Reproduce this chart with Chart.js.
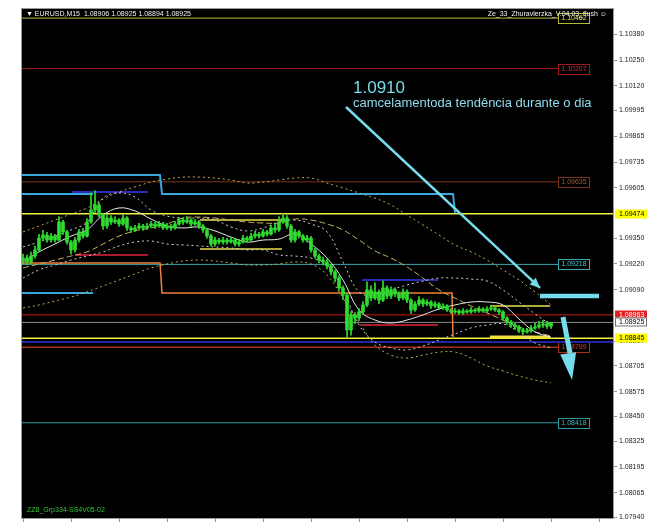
<!DOCTYPE html>
<html>
<head>
<meta charset="utf-8">
<script src="https://cdn.jsdelivr.net/npm/chart.js@4.4.1/dist/chart.umd.min.js"></script>
<style>
  html, body { margin: 0; padding: 0; background: #fff; }
  canvas { display: block; }
</style>
</head>
<body>
<canvas id="eurusd" width="655" height="529"></canvas>
<script>
// EURUSD M15 candles, one entry per bar (index = bar number)
const opens = [1.09240,1.09250,1.09230,1.09260,1.09291,1.09351,1.09366,1.09341,1.09361,1.09341,
  1.09432,1.09382,1.09331,1.09291,1.09341,1.09382,1.09361,1.09432,1.09493,1.09518,
  1.09467,1.09412,1.09452,1.09432,1.09442,1.09422,1.09452,1.09402,1.09392,1.09402,
  1.09412,1.09402,1.09412,1.09422,1.09412,1.09422,1.09402,1.09412,1.09402,1.09422,
  1.09442,1.09432,1.09442,1.09422,1.09432,1.09412,1.09392,1.09361,1.09321,1.09341,
  1.09331,1.09341,1.09331,1.09341,1.09321,1.09331,1.09351,1.09341,1.09361,1.09371,
  1.09361,1.09382,1.09371,1.09402,1.09392,1.09432,1.09452,1.09412,1.09341,1.09382,
  1.09361,1.09341,1.09351,1.09291,1.09260,1.09240,1.09230,1.09210,1.09180,1.09149,
  1.09099,1.09063,1.08887,1.08963,1.08947,1.08978,1.09013,1.09089,1.09048,1.09079,
  1.09038,1.09099,1.09058,1.09089,1.09069,1.09048,1.09079,1.09038,1.08988,1.09018,
  1.09038,1.09018,1.09028,1.09008,1.09018,1.08998,1.09008,1.08988,1.08978,1.08983,
  1.08973,1.08983,1.08978,1.08988,1.08983,1.08993,1.08983,1.08993,1.08998,1.08988,
  1.08978,1.08947,1.08927,1.08912,1.08902,1.08887,1.08877,1.08882,1.08897,1.08902,
  1.08912,1.08917,1.08906];
const closes = [1.09250,1.09230,1.09260,1.09291,1.09351,1.09366,1.09341,1.09361,1.09341,1.09432,
  1.09382,1.09331,1.09291,1.09341,1.09382,1.09361,1.09432,1.09493,1.09518,1.09467,
  1.09412,1.09452,1.09432,1.09442,1.09422,1.09452,1.09402,1.09392,1.09402,1.09412,
  1.09402,1.09412,1.09422,1.09412,1.09422,1.09402,1.09412,1.09402,1.09422,1.09442,
  1.09432,1.09442,1.09422,1.09432,1.09412,1.09392,1.09361,1.09321,1.09341,1.09331,
  1.09341,1.09331,1.09341,1.09321,1.09331,1.09351,1.09341,1.09361,1.09371,1.09361,
  1.09382,1.09371,1.09402,1.09392,1.09432,1.09452,1.09412,1.09341,1.09382,1.09361,
  1.09341,1.09351,1.09291,1.09260,1.09240,1.09230,1.09210,1.09180,1.09149,1.09099,
  1.09063,1.08887,1.08963,1.08947,1.08978,1.09013,1.09089,1.09048,1.09079,1.09038,
  1.09099,1.09058,1.09089,1.09069,1.09048,1.09079,1.09038,1.08988,1.09018,1.09038,
  1.09018,1.09028,1.09008,1.09018,1.08998,1.09008,1.08988,1.08978,1.08983,1.08973,
  1.08983,1.08978,1.08988,1.08983,1.08993,1.08983,1.08993,1.08998,1.08988,1.08978,
  1.08947,1.08927,1.08912,1.08902,1.08887,1.08877,1.08882,1.08897,1.08902,1.08912,
  1.08917,1.08906,1.08925];
const highs = [1.09270,1.09265,1.09280,1.09310,1.09370,1.09390,1.09380,1.09375,1.09370,1.09460,
  1.09440,1.09390,1.09340,1.09355,1.09395,1.09400,1.09450,1.09580,1.09590,1.09530,
  1.09475,1.09470,1.09465,1.09460,1.09450,1.09470,1.09460,1.09410,1.09415,1.09425,
  1.09420,1.09425,1.09435,1.09430,1.09435,1.09430,1.09425,1.09420,1.09435,1.09455,
  1.09455,1.09460,1.09450,1.09445,1.09440,1.09420,1.09400,1.09370,1.09355,1.09350,
  1.09355,1.09350,1.09355,1.09350,1.09345,1.09365,1.09360,1.09375,1.09385,1.09380,
  1.09395,1.09390,1.09415,1.09420,1.09460,1.09475,1.09465,1.09420,1.09395,1.09390,
  1.09370,1.09365,1.09360,1.09300,1.09270,1.09255,1.09245,1.09220,1.09190,1.09160,
  1.09110,1.09070,1.08980,1.08975,1.08995,1.09030,1.09130,1.09110,1.09125,1.09090,
  1.09135,1.09110,1.09105,1.09100,1.09080,1.09095,1.09090,1.09045,1.09030,1.09055,
  1.09045,1.09040,1.09035,1.09030,1.09025,1.09020,1.09015,1.08995,1.08995,1.08990,
  1.08995,1.08990,1.09000,1.08995,1.09005,1.09000,1.09005,1.09010,1.09005,1.08995,
  1.08985,1.08955,1.08935,1.08920,1.08910,1.08895,1.08895,1.08910,1.08920,1.08930,
  1.08935,1.08930,1.08925];
const lows = [1.09220,1.09215,1.09220,1.09250,1.09285,1.09340,1.09330,1.09330,1.09330,1.09335,
  1.09370,1.09320,1.09270,1.09280,1.09330,1.09350,1.09355,1.09425,1.09480,1.09455,
  1.09395,1.09400,1.09420,1.09425,1.09410,1.09415,1.09390,1.09380,1.09385,1.09395,
  1.09390,1.09395,1.09405,1.09400,1.09405,1.09395,1.09395,1.09390,1.09395,1.09415,
  1.09420,1.09425,1.09410,1.09415,1.09400,1.09380,1.09350,1.09310,1.09310,1.09320,
  1.09320,1.09320,1.09325,1.09310,1.09310,1.09325,1.09330,1.09335,1.09350,1.09350,
  1.09355,1.09360,1.09365,1.09380,1.09385,1.09425,1.09400,1.09330,1.09330,1.09350,
  1.09330,1.09330,1.09280,1.09250,1.09225,1.09215,1.09195,1.09165,1.09130,1.09085,
  1.09040,1.08851,1.08860,1.08920,1.08935,1.08965,1.09005,1.09035,1.09040,1.09020,
  1.09030,1.09045,1.09045,1.09055,1.09035,1.09040,1.09025,1.08970,1.08980,1.09010,
  1.09005,1.09010,1.08995,1.09000,1.08990,1.08990,1.08980,1.08970,1.08970,1.08965,
  1.08965,1.08970,1.08970,1.08975,1.08975,1.08975,1.08975,1.08985,1.08980,1.08965,
  1.08935,1.08915,1.08900,1.08890,1.08875,1.08865,1.08870,1.08875,1.08890,1.08895,
  1.08900,1.08895,1.08894];

// indicator lines, sampled every 4th bar
const bandX = [0,4,8,12,16,20,24,28,32,36,40,44,48,52,56,60,64,68,72,76,80,84,88,92,96,100,104,108,112,116,120,124,128,132];
const maFast = [1.09230,1.09281,1.09321,1.09361,1.09392,1.09467,1.09503,1.09488,1.09447,1.09412,1.09402,1.09407,1.09387,1.09356,1.09331,1.09341,1.09346,
  1.09372,1.09321,1.09250,1.09139,1.08988,1.08937,1.08922,1.08937,1.08963,1.08993,1.09013,1.09028,1.09028,1.09013,1.08942,1.08877,1.08851];
const maSlow = [1.09200,1.09220,1.09240,1.09260,1.09281,1.09321,1.09361,1.09387,1.09402,1.09422,1.09452,1.09457,1.09452,1.09442,1.09432,1.09427,1.09427,
  1.09447,1.09442,1.09422,1.09392,1.09341,1.09286,1.09250,1.09205,1.09149,1.09089,1.09048,1.09008,1.08973,1.08937,1.08902,1.08877,1.08856];
const bandUpper = [1.09306,1.09331,1.09361,1.09392,1.09432,1.09553,1.09579,1.09558,1.09493,1.09462,1.09452,1.09452,1.09442,1.09407,1.09387,1.09402,1.09432,
  1.09442,1.09422,1.09382,1.09230,1.09079,1.09063,1.09089,1.09114,1.09134,1.09149,1.09149,1.09144,1.09134,1.09089,1.09028,1.08968,1.08912];
const bandLower = [1.09149,1.09190,1.09215,1.09240,1.09260,1.09281,1.09311,1.09331,1.09336,1.09321,1.09316,1.09311,1.09306,1.09301,1.09291,1.09291,1.09266,
  1.09260,1.09250,1.09215,1.09089,1.08912,1.08826,1.08796,1.08786,1.08806,1.08836,1.08867,1.08897,1.08912,1.08917,1.08877,1.08821,1.08796];
const envUpper = [1.09382,1.09412,1.09442,1.09472,1.09503,1.09548,1.09584,1.09609,1.09634,1.09649,1.09659,1.09659,1.09654,1.09644,1.09629,1.09634,1.09644,
  1.09654,1.09654,1.09629,1.09604,1.09579,1.09553,1.09518,1.09467,1.09417,1.09366,1.09316,1.09281,1.09240,1.09190,1.09139,1.09079,1.09013];
const envLower = [1.08998,1.09013,1.09033,1.09053,1.09079,1.09109,1.09139,1.09170,1.09200,1.09220,1.09235,1.09240,1.09235,1.09225,1.09215,1.09215,1.09220,
  1.09230,1.09220,1.09165,1.09048,1.08927,1.08811,1.08760,1.08745,1.08760,1.08775,1.08775,1.08745,1.08705,1.08680,1.08654,1.08634,1.08619];

// horizontal levels
const levelPrices = [1.10462, 1.10207, 1.09635, 1.09474, 1.09218, 1.08963, 1.08925, 1.08845, 1.08826, 1.08799, 1.08418];
const levelColors = ['#b8b838','#a01818','#7a3418','#f2f23c','#3aa8b0','#c81818','#8a8a8a','#f2f23c','#2424a8','#a83018','#2a9aa0'];
const levelWidths = [1, 1, 1, 1.5, 1, 1, 1, 1.5, 2, 1.5, 1];
const levelBoxed = [true, true, true, false, true, false, false, false, false, true, true];
const boxTextColors = ['#e8e840','#c83030','#9a5a38','#50c4cc','#d04030','#40b4bc'];

// stepped channels and short segments
const blueStep = [[-0.25, 1.09669], [34.25, 1.09669], [34.75, 1.09574], [107.5, 1.09574], [108, 1.09478]];
const blueLeftHi = [[-0.25, 1.09574], [17.5, 1.09574]];
const blueLeftLo = [[-0.25, 1.09074], [17.5, 1.09074]];
const orangeStep = [[-0.25, 1.09225], [34.25, 1.09225], [34.75, 1.09074], [107.25, 1.09074], [107.5, 1.08851]];
const segStart = [12.25, 13, 44.25, 44.25, 84.75, 84.75, 116.75, 116.75];
const segEnd = [31.25, 31.25, 64.75, 64.75, 103.75, 103.75, 131.75, 131.75];
const segPrice = [1.09584, 1.09266, 1.09442, 1.09296, 1.09139, 1.08912, 1.09008, 1.08851];
const segColors = ['#2a2ab4','#b01830','#e8e050','#e8e050','#2a2ab4','#b01830','#e8e050','#f0e040'];
const segWidths = [2, 2, 1.5, 1.5, 2, 2, 1.5, 3];

// hand-drawn arrows
const arrowFrom = [[80.75, 1.10013], [129.25, 1.09058], [135, 1.08952]];
const arrowTo = [[129.25, 1.09099], [144, 1.09058], [136.75, 1.08770]];
const arrowWidths = [2.5, 4.5, 5];
const arrowTips = [[129.25, 1.09099], null, [137.25, 1.08634]];

const priceTicks = [1.10380, 1.10250, 1.10120, 1.09995, 1.09865, 1.09735, 1.09605, 1.09350, 1.09220, 1.09090,
  1.08830, 1.08705, 1.08575, 1.08450, 1.08325, 1.08195, 1.08065, 1.07940];
const timeTicks = [0, 12, 24, 36, 48, 60, 72, 84, 96, 108, 120, 132, 144];
const ohlc = [1.08906, 1.08925, 1.08894, 1.08925];
const axisBadges = [[1.09474, '#ffff00', '#000'], [1.08963, '#e02020', '#fff'], [1.08925, '#ffffff', '#000'], [1.08845, '#ffff00', '#000']];

const FONT = '"Liberation Sans", Arial, sans-serif';
const CYAN = '#76dcec';

function pts(xs, ys) { return xs.map((x, k) => ({ x: x, y: ys[k] })); }
function line(data, color, width, order, extra) {
  return Object.assign({ type: 'line', data: data, borderColor: color, borderWidth: width,
    pointRadius: 0, fill: false, tension: 0, order: order }, extra || {});
}

const datasets = [];

// arrows on top
arrowFrom.forEach((a, i) => {
  datasets.push(line([{ x: a[0], y: a[1] }, { x: arrowTo[i][0], y: arrowTo[i][1] }], CYAN, arrowWidths[i], 0,
    { borderCapStyle: 'butt' }));
});

// candles
datasets.push({ type: 'bar', data: closes.map((c, i) => ({ x: i, y: [opens[i], c] })),
  backgroundColor: '#30dc30', borderWidth: 0, barThickness: 3, minBarLength: 1, grouped: false, order: 1 });
datasets.push({ type: 'bar', data: closes.map((c, i) => ({ x: i, y: [lows[i], highs[i]] })),
  backgroundColor: '#30dc30', borderWidth: 0, barThickness: 1, grouped: false, order: 2 });

// moving averages and bands
datasets.push(line(pts(bandX, maFast), '#e6e6e6', 1, 3, { tension: 0.4 }));
datasets.push(line(pts(bandX, maSlow), '#c8b060', 1, 3, { tension: 0.4, borderDash: [6, 3] }));
datasets.push(line(pts(bandX, bandUpper), '#cfcfcf', 1, 3, { tension: 0.4, borderDash: [2, 3] }));
datasets.push(line(pts(bandX, bandLower), '#cfcfcf', 1, 3, { tension: 0.4, borderDash: [2, 3] }));
datasets.push(line(pts(bandX, envUpper), '#c0a850', 1, 3, { tension: 0.4, borderDash: [2, 3] }));
datasets.push(line(pts(bandX, envLower), '#c0a850', 1, 3, { tension: 0.4, borderDash: [2, 3] }));

// channels
const toXY = arr => arr.map(p => ({ x: p[0], y: p[1] }));
datasets.push(line(toXY(blueStep), '#3aa6e0', 2, 4));
datasets.push(line(toXY(blueLeftHi), '#3aa6e0', 2, 4));
datasets.push(line(toXY(blueLeftLo), '#3aa6e0', 2, 4));
datasets.push(line(toXY(orangeStep), '#f08038', 1.5, 4));
segPrice.forEach((p, i) => {
  datasets.push(line([{ x: segStart[i], y: p }, { x: segEnd[i], y: p }], segColors[i], segWidths[i], 4));
});

// levels
const BOX_FROM = 133.75, BOX_TO = 141.5, X_MIN = -0.25, X_MAX = 147.5;
levelPrices.forEach((p, i) => {
  const end = levelBoxed[i] ? BOX_FROM : X_MAX;
  datasets.push(line([{ x: X_MIN, y: p }, { x: end, y: p }], levelColors[i], levelWidths[i], 5));
});

const mt4Frame = {
  id: 'mt4Frame',
  beforeDraw(chart) {
    const { ctx, chartArea: a } = chart;
    ctx.save();
    ctx.fillStyle = '#000';
    ctx.fillRect(a.left, a.top, a.right - a.left, a.bottom - a.top);
    ctx.restore();
  },
  beforeDatasetsDraw(chart) {
    const { ctx, scales: { x, y } } = chart;
    ctx.save();
    ctx.font = '7px ' + FONT;
    ctx.textBaseline = 'middle';
    ctx.textAlign = 'center';
    let b = 0;
    levelPrices.forEach((p, i) => {
      if (!levelBoxed[i]) return;
      const py = Math.round(y.getPixelForValue(p));
      const x0 = Math.round(x.getPixelForValue(BOX_FROM)) + 0.5;
      const x1 = Math.round(x.getPixelForValue(BOX_TO)) + 0.5;
      ctx.fillStyle = '#000';
      ctx.fillRect(x0, py - 4.5, x1 - x0, 10);
      ctx.strokeStyle = levelColors[i];
      ctx.lineWidth = 1;
      ctx.strokeRect(x0, py - 4.5, x1 - x0, 10);
      ctx.fillStyle = boxTextColors[b++];
      ctx.fillText(p.toFixed(5), (x0 + x1) / 2, py + 0.5);
    });
    ctx.restore();
  },
  afterDatasetsDraw(chart) {
    const { ctx, scales: { x, y } } = chart;
    ctx.save();
    // arrow heads
    arrowTips.forEach((t, i) => {
      if (!t) return;
      const sx = x.getPixelForValue(arrowFrom[i][0]), sy = y.getPixelForValue(arrowFrom[i][1]);
      const tx = x.getPixelForValue(t[0]), ty = y.getPixelForValue(t[1]);
      const len = Math.hypot(tx - sx, ty - sy);
      const ux = (tx - sx) / len, uy = (ty - sy) / len;
      const hl = i === 0 ? 10 : 27, hw = i === 0 ? 4.5 : 8;
      const bx = tx - ux * hl, by = ty - uy * hl;
      ctx.fillStyle = CYAN;
      ctx.beginPath();
      ctx.moveTo(tx, ty);
      ctx.lineTo(bx - uy * hw, by + ux * hw);
      ctx.lineTo(bx + uy * hw, by - ux * hw);
      ctx.closePath();
      ctx.fill();
    });
    // note
    const nx = x.getPixelForValue(82.5);
    ctx.fillStyle = CYAN;
    ctx.textBaseline = 'middle';
    ctx.font = '17px ' + FONT;
    ctx.fillText('1.0910', nx, y.getPixelForValue(1.10109));
    ctx.font = '13px ' + FONT;
    ctx.fillStyle = '#8edcf0';
    ctx.fillText('camcelamentoda tendência durante o dia', nx, y.getPixelForValue(1.10033));
    ctx.restore();
  },
  afterDraw(chart) {
    const { ctx, chartArea: a, scales: { y } } = chart;
    ctx.save();
    // frame
    ctx.strokeStyle = '#9a9a9a';
    ctx.lineWidth = 1;
    ctx.strokeRect(a.left - 0.5, a.top - 0.5, a.right - a.left + 1, a.bottom - a.top + 1);
    // header
    ctx.font = '7px ' + FONT;
    ctx.textBaseline = 'middle';
    ctx.fillStyle = '#f0f0f0';
    ctx.fillText('\u25BC EURUSD,M15  ' + ohlc.map(v => v.toFixed(5)).join(' '), a.left + 4, a.top + 5);
    ctx.textAlign = 'right';
    ctx.fillText('Ze_33_Zhuravlerzka_V.04.03_flush \u263A', a.right - 6, a.top + 5);
    ctx.textAlign = 'left';
    ctx.fillStyle = '#34c834';
    ctx.fillText('ZZ8_Grp334-SS4V05-02', a.left + 5, a.bottom - 8);
    // price badges on the axis
    axisBadges.forEach(bd => {
      const py = Math.round(y.getPixelForValue(bd[0]));
      ctx.fillStyle = bd[1];
      ctx.fillRect(a.right + 2, py - 4.5, 32, 9);
      if (bd[1] === '#ffffff') {
        ctx.strokeStyle = '#707070';
        ctx.strokeRect(a.right + 2.5, py - 4, 31, 8);
      }
      ctx.fillStyle = bd[2];
      ctx.fillText(bd[0].toFixed(5), a.right + 6, py + 0.5);
    });
    ctx.restore();
  }
};

new Chart(document.getElementById('eurusd'), {
  type: 'bar',
  data: { datasets: datasets },
  options: {
    responsive: false,
    animation: false,
    layout: { padding: { left: 22, top: 9, right: 0, bottom: 0 } },
    plugins: { legend: { display: false }, tooltip: { enabled: false } },
    scales: {
      x: {
        type: 'linear', min: X_MIN, max: X_MAX, offset: false,
        grid: { offset: false, drawOnChartArea: false, drawTicks: true, tickLength: 4, color: '#909090' },
        border: { color: '#9a9a9a' },
        ticks: { display: false },
        afterBuildTicks: s => { s.ticks = timeTicks.map(v => ({ value: v })); },
        afterFit: s => { s.height = 11; }
      },
      y: {
        type: 'linear', position: 'right', min: 1.07937, max: 1.10508,
        grid: { drawOnChartArea: false, drawTicks: true, tickLength: 4, color: '#909090' },
        border: { color: '#c8c8c8' },
        ticks: { font: { family: FONT, size: 7 }, color: '#222', padding: 2, callback: v => v.toFixed(5) },
        afterBuildTicks: s => { s.ticks = priceTicks.map(v => ({ value: v })); },
        afterFit: s => { s.width = 42; }
      }
    }
  },
  plugins: [mt4Frame]
});
</script>
</body>
</html>
